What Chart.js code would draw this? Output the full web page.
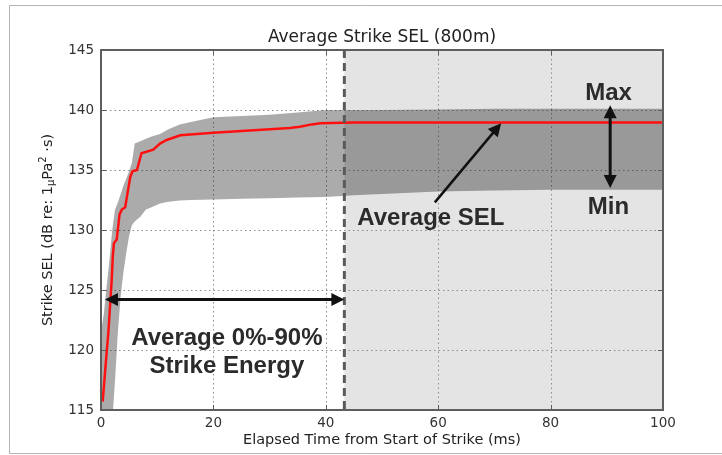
<!DOCTYPE html>
<html>
<head>
<meta charset="utf-8">
<script src="https://cdn.jsdelivr.net/npm/chart.js@4.4.0/dist/chart.umd.min.js"></script>
<style>
  html, body { margin: 0; padding: 0; background: #fff; }
  #wrap { width: 722px; height: 455px; position: relative; }
</style>
</head>
<body>
<div id="wrap"><canvas id="c"></canvas></div>
<script>
// Average strike SEL (800 m) accumulated over elapsed time within a strike
const meanTime = [0.3, 0.9, 1.3, 1.6, 1.9, 2.1, 2.3, 2.8, 3.3, 3.7, 4.3, 5.2, 5.6, 6.4, 7.2, 9.3, 10.5, 11.7, 14.1, 20.0, 33.6, 35.4, 37.5, 39.0, 45, 50, 60, 70, 80, 90, 100];
const meanSEL  = [115.7, 119.2, 121.4, 123.6, 125.8, 127.8, 128.9, 129.2, 131.3, 131.7, 131.9, 134.4, 134.9, 135.0, 136.4, 136.7, 137.2, 137.5, 137.9, 138.1, 138.5, 138.6, 138.8, 138.9, 138.95, 138.95, 138.95, 138.95, 138.95, 138.95, 138.95];

// Spread across strikes: per-time maximum and minimum SEL
const envTime = [0, 0.5, 1, 1.5, 2, 2.5, 3, 3.5, 4, 4.5, 5, 5.5, 6, 7, 8, 9, 10.5, 12, 14, 16, 20, 25, 30, 35, 40, 45, 50, 60, 70, 80, 90, 100];
const envMax  = [121.5, 123.0, 125.3, 127.5, 130.0, 131.7, 132.3, 133.0, 133.7, 134.3, 134.9, 135.6, 137.2, 137.4, 137.6, 137.8, 138.0, 138.4, 138.8, 139.0, 139.4, 139.5, 139.6, 139.8, 140.0, 140.0, 140.0, 140.05, 140.1, 140.1, 140.1, 140.1];
const envMin  = [106.0, 108.0, 110.0, 112.0, 114.0, 117.5, 121.5, 124.5, 126.5, 128.1, 129.5, 130.4, 130.7, 131.1, 131.7, 131.9, 132.2, 132.35, 132.45, 132.5, 132.55, 132.6, 132.65, 132.7, 132.75, 132.9, 133.0, 133.2, 133.3, 133.35, 133.35, 133.35];

const xTicks = [0, 20, 40, 60, 80, 100];
const yTicks = [115, 120, 125, 130, 135, 140, 145];

// End of the window holding 0%-90% of the strike energy (ms)
const energyCutoff = 43.3;

const toPoints = (xs, ys) => xs.map((t, i) => ({ x: t, y: ys[i] }));

const TEXT = '#2b2b2b';
const BOLD = 'bold 24px "Liberation Sans", Arial, sans-serif';

function arrowHead(ctx, x1, y1, x2, y2, len, half) {
  const ang = Math.atan2(y2 - y1, x2 - x1);
  ctx.beginPath();
  ctx.moveTo(x2, y2);
  ctx.lineTo(x2 - len * Math.cos(ang) + half * Math.sin(ang), y2 - len * Math.sin(ang) - half * Math.cos(ang));
  ctx.lineTo(x2 - len * Math.cos(ang) - half * Math.sin(ang), y2 - len * Math.sin(ang) + half * Math.cos(ang));
  ctx.closePath();
  ctx.fill();
}

function arrow(ctx, x1, y1, x2, y2, both) {
  const len = 13, half = 6.5;
  const ang = Math.atan2(y2 - y1, x2 - x1);
  const sx = both ? x1 + (len - 2) * Math.cos(ang) : x1;
  const sy = both ? y1 + (len - 2) * Math.sin(ang) : y1;
  ctx.beginPath();
  ctx.moveTo(sx, sy);
  ctx.lineTo(x2 - (len - 2) * Math.cos(ang), y2 - (len - 2) * Math.sin(ang));
  ctx.stroke();
  arrowHead(ctx, x1, y1, x2, y2, len, half);
  if (both) arrowHead(ctx, x2, y2, x1, y1, len, half);
}

const decorations = {
  id: 'decorations',
  beforeDatasetsDraw(chart) {
    const { ctx, chartArea: a, scales: { x, y } } = chart;
    ctx.save();
    // window after 90% energy
    const xs = x.getPixelForValue(energyCutoff);
    ctx.fillStyle = '#e4e4e4';
    ctx.fillRect(xs, a.top, a.right - xs, a.bottom - a.top);
    // dotted grid
    ctx.strokeStyle = '#8c8c8c';
    ctx.lineWidth = 1;
    ctx.setLineDash([1.5, 3]);
    xTicks.slice(1, -1).forEach(v => {
      const px = Math.round(x.getPixelForValue(v)) + 0.5;
      ctx.beginPath(); ctx.moveTo(px, a.top); ctx.lineTo(px, a.bottom); ctx.stroke();
    });
    yTicks.slice(1, -1).forEach(v => {
      const py = Math.round(y.getPixelForValue(v)) + 0.5;
      ctx.beginPath(); ctx.moveTo(a.left, py); ctx.lineTo(a.right, py); ctx.stroke();
    });
    ctx.restore();
  },
  afterDatasetsDraw(chart) {
    const { ctx, chartArea: a, scales: { x, y } } = chart;
    ctx.save();

    // dashed marker at the 90% energy point
    const xs = x.getPixelForValue(energyCutoff);
    ctx.strokeStyle = '#5a5a5a';
    ctx.lineWidth = 3;
    ctx.setLineDash([8, 5]);
    ctx.beginPath(); ctx.moveTo(xs, a.top); ctx.lineTo(xs, a.bottom); ctx.stroke();
    ctx.setLineDash([]);

    // plot frame and inward ticks
    ctx.strokeStyle = '#5e5e5e';
    ctx.lineWidth = 2;
    ctx.strokeRect(a.left, a.top, a.right - a.left, a.bottom - a.top);
    ctx.lineWidth = 1;
    xTicks.forEach(v => {
      const px = Math.round(x.getPixelForValue(v)) + 0.5;
      ctx.beginPath();
      ctx.moveTo(px, a.top); ctx.lineTo(px, a.top + 5);
      ctx.moveTo(px, a.bottom); ctx.lineTo(px, a.bottom - 5);
      ctx.stroke();
    });
    yTicks.forEach(v => {
      const py = Math.round(y.getPixelForValue(v)) + 0.5;
      ctx.beginPath();
      ctx.moveTo(a.left, py); ctx.lineTo(a.left + 5, py);
      ctx.moveTo(a.right, py); ctx.lineTo(a.right - 5, py);
      ctx.stroke();
    });

    // annotation arrows
    ctx.strokeStyle = '#111';
    ctx.fillStyle = '#111';
    ctx.lineWidth = 3;
    const yE = y.getPixelForValue(124.2);
    arrow(ctx, x.getPixelForValue(0.7), yE, x.getPixelForValue(energyCutoff), yE, true);
    const xM = x.getPixelForValue(90.6);
    arrow(ctx, xM, y.getPixelForValue(140.4), xM, y.getPixelForValue(133.5), true);
    ctx.lineWidth = 2.5;
    arrow(ctx, x.getPixelForValue(59.4), y.getPixelForValue(132.3), x.getPixelForValue(71.2), y.getPixelForValue(138.9), false);

    // annotation text
    ctx.fillStyle = TEXT;
    ctx.font = BOLD;
    ctx.textAlign = 'center';
    ctx.textBaseline = 'middle';
    ctx.fillText('Average 0%-90%', x.getPixelForValue(22.4), y.getPixelForValue(121.0));
    ctx.fillText('Strike Energy', x.getPixelForValue(22.4), y.getPixelForValue(118.6));
    ctx.fillText('Average SEL', x.getPixelForValue(58.7), y.getPixelForValue(131.0));
    ctx.fillText('Max', x.getPixelForValue(90.3), y.getPixelForValue(141.4));
    ctx.fillText('Min', x.getPixelForValue(90.3), y.getPixelForValue(131.9));
    ctx.restore();
  },
  afterDraw(chart) {
    const { ctx, chartArea: a } = chart;
    ctx.save();
    // outer panel border
    ctx.strokeStyle = '#b4b4b4';
    ctx.lineWidth = 1;
    ctx.beginPath();
    ctx.moveTo(722, 5.5); ctx.lineTo(9.5, 5.5); ctx.lineTo(9.5, 453.5); ctx.lineTo(722, 453.5);
    ctx.stroke();

    const cx = (a.left + a.right) / 2;
    ctx.fillStyle = '#222';
    ctx.textAlign = 'center';
    ctx.textBaseline = 'middle';
    ctx.font = '17px "DejaVu Sans", sans-serif';
    ctx.fillText('Average Strike SEL (800m)', cx, 38);

    ctx.font = '14.5px "DejaVu Sans", sans-serif';
    ctx.fillText('Elapsed Time from Start of Strike (ms)', cx, 440);

    // y axis title with subscript mu and squared Pa
    ctx.translate(48, (a.top + a.bottom) / 2);
    ctx.rotate(-Math.PI / 2);
    const parts = [
      { t: 'Strike SEL (dB re: 1', f: '14.5px "DejaVu Sans", sans-serif', dy: 0 },
      { t: 'μ', f: '10px "DejaVu Sans", sans-serif', dy: 3.5 },
      { t: 'Pa', f: '14.5px "DejaVu Sans", sans-serif', dy: 0 },
      { t: '2', f: '10px "DejaVu Sans", sans-serif', dy: -5 },
      { t: ' ·s)', f: '14.5px "DejaVu Sans", sans-serif', dy: 0 }
    ];
    let total = 0;
    parts.forEach(p => { ctx.font = p.f; p.w = ctx.measureText(p.t).width; total += p.w; });
    let px = -total / 2;
    ctx.textAlign = 'left';
    parts.forEach(p => { ctx.font = p.f; ctx.fillText(p.t, px, p.dy); px += p.w; });
    ctx.restore();
  }
};

new Chart(document.getElementById('c'), {
  type: 'line',
  data: {
    datasets: [
      {
        label: 'Average SEL',
        data: toPoints(meanTime, meanSEL),
        borderColor: '#ff1010',
        borderWidth: 2.5,
        pointRadius: 0,
        fill: false,
        tension: 0
      },
      {
        label: 'Max',
        data: toPoints(envTime, envMax),
        borderWidth: 0,
        borderColor: 'rgba(0,0,0,0)',
        backgroundColor: 'rgba(0,0,0,0.33)',
        pointRadius: 0,
        fill: '+1',
        tension: 0
      },
      {
        label: 'Min',
        data: toPoints(envTime, envMin),
        borderWidth: 0,
        borderColor: 'rgba(0,0,0,0)',
        pointRadius: 0,
        fill: false,
        tension: 0
      }
    ]
  },
  options: {
    responsive: true,
    maintainAspectRatio: false,
    animation: false,
    devicePixelRatio: 1,
    layout: { padding: { left: 0, right: 59, top: 50, bottom: 0 } },
    plugins: { legend: { display: false }, title: { display: false }, tooltip: { enabled: false } },
    scales: {
      x: {
        type: 'linear',
        min: 0, max: 100,
        afterFit(s) { s.height = 45; },
        afterBuildTicks(s) { s.ticks = xTicks.map(v => ({ value: v })); },
        grid: { display: false, drawTicks: false },
        border: { display: false },
        ticks: { padding: 5, color: '#333', font: { family: 'DejaVu Sans', size: 13.5 }, maxRotation: 0 }
      },
      y: {
        type: 'linear',
        min: 115, max: 145,
        afterFit(s) { s.width = 101; },
        afterBuildTicks(s) { s.ticks = yTicks.map(v => ({ value: v })); },
        grid: { display: false, drawTicks: false },
        border: { display: false },
        ticks: { padding: 7, color: '#333', font: { family: 'DejaVu Sans', size: 13.5 } }
      }
    }
  },
  plugins: [decorations]
});
</script>
</body>
</html>
